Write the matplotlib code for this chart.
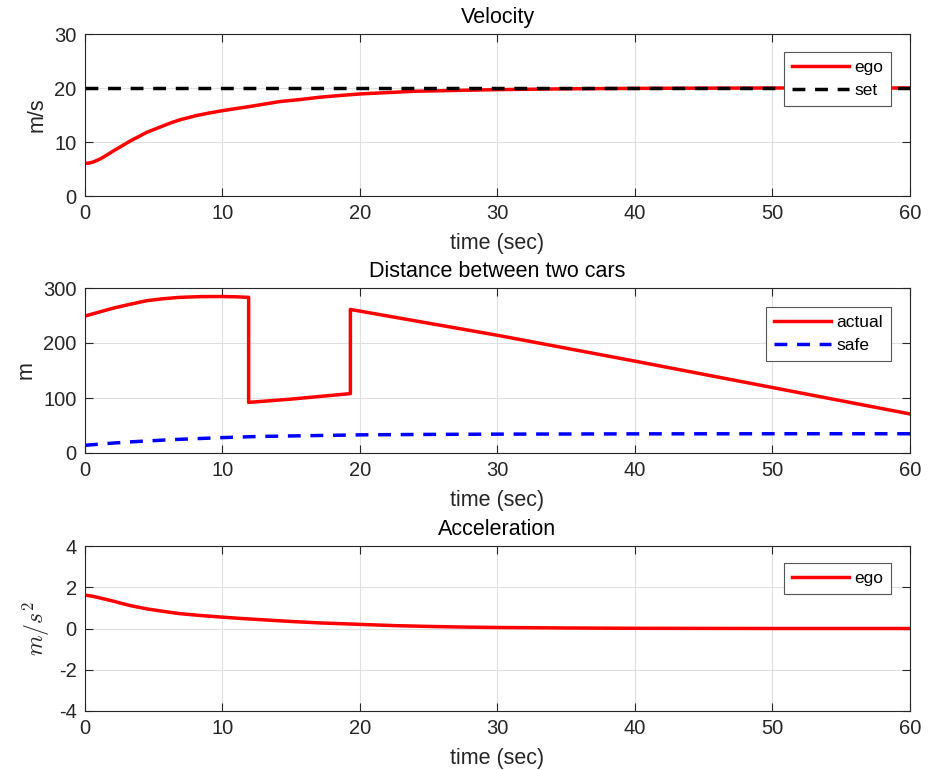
import matplotlib
matplotlib.use('Agg')
import matplotlib.pyplot as plt

plt.rcParams['font.family'] = ['Liberation Sans', 'DejaVu Sans']
plt.rcParams['mathtext.fontset'] = 'cm'
plt.rcParams['axes.unicode_minus'] = False

# Velocity (m/s)
t_vel = [0, 0.3, 0.6, 1.1, 1.6, 2.1, 2.7, 3.3, 3.9, 4.5, 5.1, 5.7, 6.3, 6.9, 7.5, 8.1, 9, 10,
         11, 11.8, 13, 14.2, 15.6, 17.1, 18.5, 20, 22, 24, 27, 30, 35, 40, 45, 50, 60]
v_ego = [6.05, 6.1, 6.3, 6.85, 7.6, 8.4, 9.3, 10.2, 11.0, 11.8, 12.4, 13.0, 13.6, 14.1, 14.5, 14.9, 15.35, 15.8,
         16.2, 16.5, 17.0, 17.5, 17.85, 18.3, 18.6, 18.9, 19.15, 19.4, 19.55, 19.7, 19.85, 19.93, 19.97, 20.0, 20.0]
t_set = [0, 60]
v_set = [20, 20]

# Distance between cars (m)
t_dist = [0, 1, 2, 3.2, 4.5, 5.7, 6.9, 8.4, 10, 11, 11.9, 11.9, 15, 19.3, 19.3, 30, 40, 50, 60]
d_actual = [249, 256, 263, 270, 277, 280.5, 283, 284.3, 284.5, 284, 283, 92, 98, 108, 261, 214, 167, 119, 71]
t_safe = [0, 1, 2, 3.5, 5, 6.5, 8, 10, 12.5, 15, 17.5, 20, 25, 30, 40, 50, 60]
d_safe = [14, 16, 18, 20.5, 22.5, 24.5, 26, 28, 30, 31, 32, 33, 33.8, 34.3, 34.8, 35, 35]

# Acceleration (m/s^2)
t_acc = [0, 0.5, 1.1, 1.6, 2.1, 2.7, 3.3, 3.9, 4.5, 5.7, 6.9, 8.4, 10, 11.5, 13, 15, 17.1,
         20, 22.5, 25, 27.5, 30, 35, 40, 50, 60]
a_ego = [1.62, 1.57, 1.48, 1.40, 1.32, 1.21, 1.11, 1.03, 0.95, 0.83, 0.72, 0.63, 0.55, 0.48, 0.42, 0.34, 0.27,
         0.2, 0.14, 0.1, 0.07, 0.05, 0.025, 0.01, 0.0, 0.0]

fig = plt.figure(figsize=(9.29, 7.70), dpi=100)
W, H = 929, 770
boxes = [(34, 196), (288, 453), (546, 711)]
axes = []
for top, bot in boxes:
    ax = fig.add_axes([85 / W, 1 - bot / H, (910 - 85) / W, (bot - top) / H])
    axes.append(ax)

dark = '#262626'
dash = (3.7, 2.8)

def style(ax, title, ylabel, ylim, yticks):
    ax.set_xlim(0, 60)
    ax.set_ylim(*ylim)
    ax.set_xticks([0, 10, 20, 30, 40, 50, 60])
    ax.set_yticks(yticks)
    ax.grid(True, color='#e0e0e0', linewidth=0.8)
    ax.set_axisbelow(True)
    ax.tick_params(direction='in', top=True, right=True, length=6, width=0.8,
                   labelsize=14.5, colors=dark, pad=6)
    for s in ax.spines.values():
        s.set_color(dark)
        s.set_linewidth(0.8)
    ax.set_title(title, fontsize=15.5, color='black', pad=8)
    ax.set_xlabel('time (sec)', fontsize=15.5, color=dark, labelpad=7)
    ax.set_ylabel(ylabel, fontsize=15.5, color=dark, labelpad=5)

def legend(ax, top):
    leg = ax.legend(loc='upper right', bbox_to_anchor=(0.977, top), fontsize=12.5,
                    fancybox=False, framealpha=1, edgecolor='#555555',
                    handlelength=3.3, handletextpad=0.3, borderpad=0.45,
                    labelspacing=0.45, borderaxespad=0)
    leg.get_frame().set_linewidth(0.8)

ax = axes[0]
ax.plot(t_vel, v_ego, color='red', lw=2.5, label='ego')
ax.plot(t_set, v_set, color='black', lw=2.5, dashes=dash, label='set')
style(ax, 'Velocity', 'm/s', (0, 30), [0, 10, 20, 30])
legend(ax, 0.889)

ax = axes[1]
ax.plot(t_dist, d_actual, color='red', lw=2.5, label='actual')
ax.plot(t_safe, d_safe, color='blue', lw=2.5, dashes=dash, label='safe')
style(ax, 'Distance between two cars', 'm', (0, 300), [0, 100, 200, 300])
legend(ax, 0.885)

ax = axes[2]
ax.plot(t_acc, a_ego, color='red', lw=2.5, label='ego')
style(ax, 'Acceleration', '$m/s^2$', (-4, 4), [-4, -2, 0, 2, 4])
ax.yaxis.label.set_size(17)
legend(ax, 0.897)

fig.savefig('out.png', dpi=100)
